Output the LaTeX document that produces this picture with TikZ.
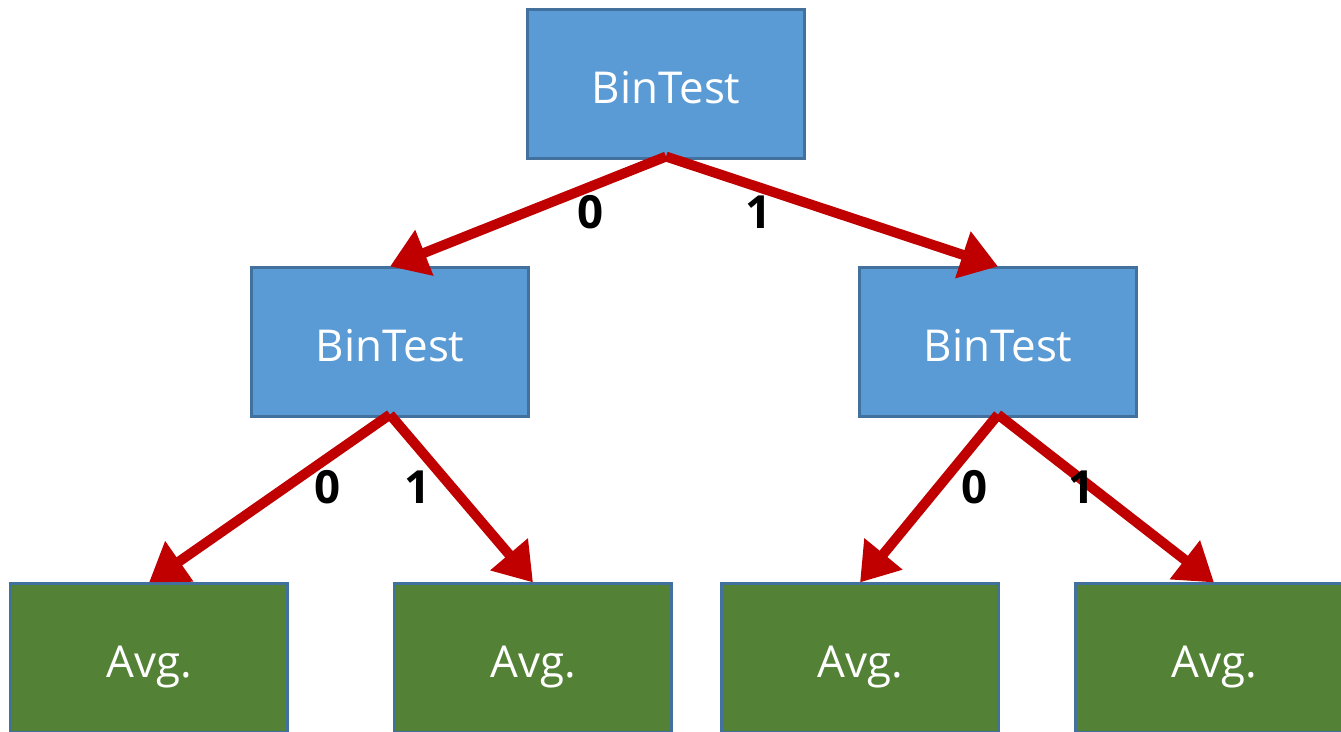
\documentclass[tikz,border=0pt]{standalone}
\usepackage{fontspec}
\setmainfont{Open Sans}
\usepackage{tikz}
\usetikzlibrary{arrows.meta}
\usetikzlibrary{positioning}
\definecolor{testblue}{HTML}{5B9BD5}
\definecolor{boxline}{HTML}{41719C}
\definecolor{avggreen}{HTML}{538135}
\definecolor{edgered}{HTML}{C00000}
\tikzset{testbox/.style={draw=boxline, line width=1.2pt, fill=testblue, text=white,
			minimum width=5.54cm, minimum height=2.98cm, inner sep=0pt,
			text height=0.78cm, text depth=0pt,
			font=\fontsize{25}{30}\selectfont},
		avgbox/.style={testbox, fill=avggreen},
		branch/.style={draw=edgered, line width=0.2cm, -{Triangle[length=0.74cm, width=0.94cm]}},
		bit/.style={font=\fontsize{26}{30}\selectfont\bfseries}}

\begin{document}
\begin{tikzpicture}[x=0.02cm, y=-0.02cm]

					\useasboundingbox (0,0) rectangle (1341,731);
					\begin{scope}
					\clip (0,0) rectangle (1341,731);

					\node[testbox] (root) at (666,84) {BinTest};
					\node[testbox] (left) at (390,342) {BinTest};
					\node[testbox] (right) at (998,342) {BinTest};

					\node[avgbox] (ll) at (149,658) {Avg.};
					\node[avgbox] (lr) at (533,658) {Avg.};
					\node[avgbox] (rl) at (860,658) {Avg.};
					\node[avgbox] (rr) at (1214,658) {Avg.};

					\draw[branch] ([yshift=0.06cm]root.south) -- (left.north);
					\draw[branch] ([yshift=0.06cm]root.south) -- (right.north);
					\draw[branch] ([yshift=0.06cm]left.south) -- (ll.north);
					\draw[branch] ([yshift=0.06cm]left.south) -- (lr.north);
					\draw[branch] ([yshift=0.06cm]right.south) -- (rl.north);
					\draw[branch] ([yshift=0.06cm]right.south) -- (rr.north);

					\node[bit] (rootzero) at (591,212) {0};
					\node[bit] (rootone) at (759,212) {1};
					\node[bit] (leftzero) at (328,487) {0};
					\node[bit] (leftone) at (418,487) {1};
					\node[bit] (rightzero) at (975,487) {0};
					\node[bit] (rightone) at (1082,487) {1};

					\end{scope}

				\end{tikzpicture}
\end{document}
